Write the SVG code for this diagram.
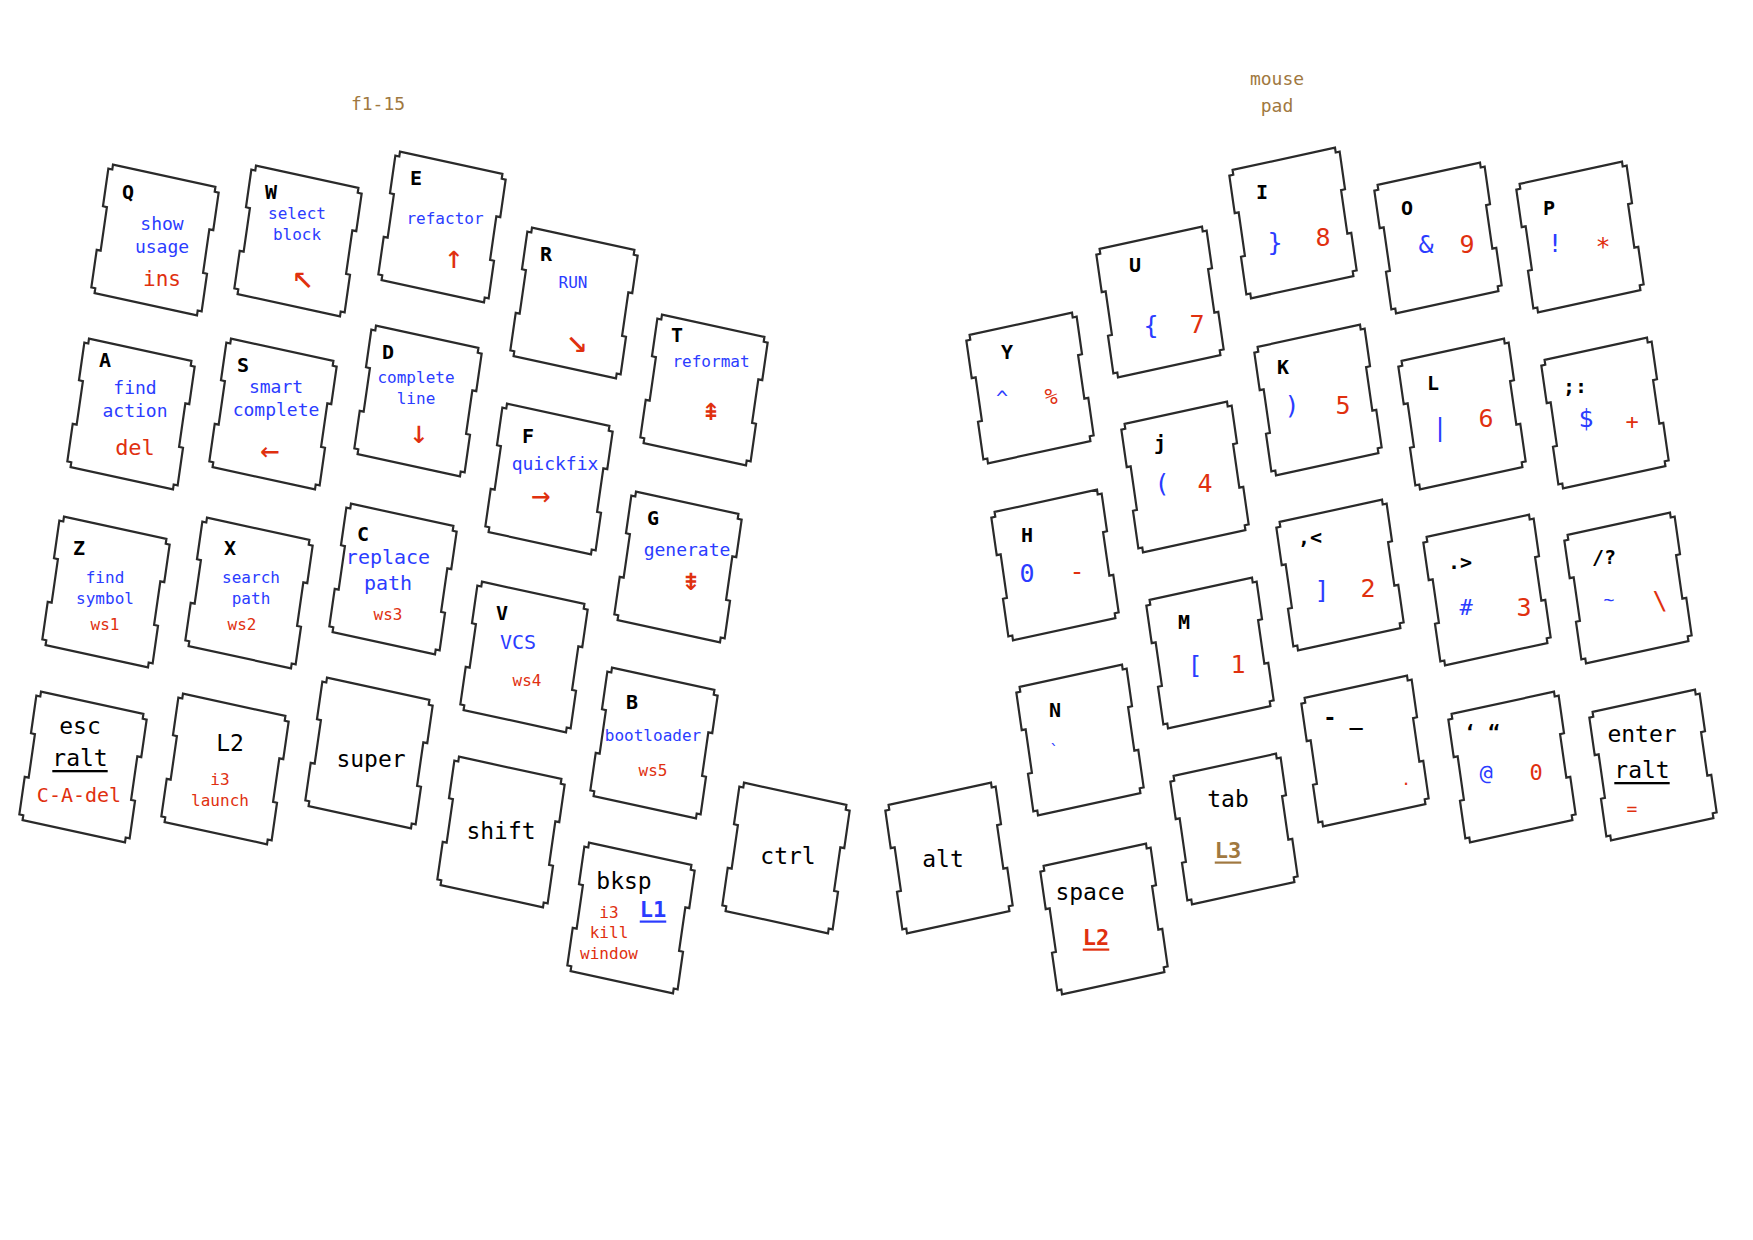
<svg xmlns="http://www.w3.org/2000/svg" xmlns:xlink="http://www.w3.org/1999/xlink" width="1753" height="1240" viewBox="0 0 1753 1240">
<style>
text{font-family:"DejaVu Sans Mono","Liberation Mono",monospace;text-anchor:middle;dominant-baseline:central}
.kl{font-weight:bold;font-size:20px;fill:#000}
.big{font-size:23px;fill:#000}
.b{fill:#2b3cff}
.r{fill:#e0300f}
.s16{font-size:16px}
.s18{font-size:18px}
.s20{font-size:20px}
.s22{font-size:22px}
.s25{font-size:25px}
.ar{font-size:32px}
.ad{font-size:36px}
.u{text-decoration:underline}
.bo{font-weight:bold}
.br{fill:#a07840}
.keyshape{fill:#fff;stroke:#2a2a2a;stroke-width:2.2;stroke-linejoin:miter}
</style>
<defs>
<path id="k" class="keyshape" vector-effect="non-scaling-stroke" d="M-52,-53 H52 V-49 H56 V-18 H52 V18 H56 V49 H52 V53 H-52 V49 H-56 V18 H-52 V-18 H-56 V-49 H-52 Z"/>
</defs>
<rect width="1753" height="1240" fill="#fff"/>
<g id="titles">
<text class="br s18" x="378" y="103">f1-15</text>
<text class="br s18" x="1277" y="78">mouse</text>
<text class="br s18" x="1277" y="105">pad</text>
</g>
<!-- left half -->
<g id="key-q"><use href="#k" transform="translate(155 240) scale(1 1.23) rotate(10)"/>
<text class="kl" x="128" y="192">Q</text><text class="b s18" x="162" y="223">show</text><text class="b s18" x="162" y="246">usage</text><text class="r" style="font-size:21px" x="162" y="279">ins</text></g>
<g id="key-w"><use href="#k" transform="translate(298 241) scale(1 1.23) rotate(10)"/>
<text class="kl" x="271" y="192">W</text><text class="b s16" x="297" y="213">select</text><text class="b s16" x="297" y="234">block</text><text class="r ad" x="303" y="275">↖</text></g>
<g id="key-e"><use href="#k" transform="translate(442 227) scale(1 1.23) rotate(10)"/>
<text class="kl" x="416" y="178">E</text><text class="b s16" x="445" y="218">refactor</text><text class="r ar" x="454" y="257">↑</text></g>
<g id="key-r"><use href="#k" transform="translate(574 303) scale(1 1.23) rotate(10)"/>
<text class="kl" x="546" y="254">R</text><text class="b s16" x="573" y="282">RUN</text><text class="r ad" x="577" y="339">↘</text></g>
<g id="key-t"><use href="#k" transform="translate(704 390) scale(1 1.23) rotate(10)"/>
<text class="kl" x="677" y="335">T</text><text class="b s16" x="711" y="361">reformat</text><text class="r ar" x="711" y="409">⇞</text></g>
<g id="key-a"><use href="#k" transform="translate(131 414) scale(1 1.23) rotate(10)"/>
<text class="kl" x="105" y="360">A</text><text class="b s18" x="135" y="387">find</text><text class="b s18" x="135" y="410">action</text><text class="r s22" x="135" y="447">del</text></g>
<g id="key-s"><use href="#k" transform="translate(273 414) scale(1 1.23) rotate(10)"/>
<text class="kl" x="243" y="365">S</text><text class="b s18" x="276" y="386">smart</text><text class="b s18" x="276" y="409">complete</text><text class="r ar" x="270" y="450">←</text></g>
<g id="key-d"><use href="#k" transform="translate(418 401) scale(1 1.23) rotate(10)"/>
<text class="kl" x="388" y="352">D</text><text class="b s16" x="416" y="377">complete</text><text class="b s16" x="416" y="398">line</text><text class="r ar" x="419" y="432">↓</text></g>
<g id="key-f"><use href="#k" transform="translate(549 479) scale(1 1.23) rotate(10)"/>
<text class="kl" x="528" y="436">F</text><text class="b s18" x="555" y="463">quickfix</text><text class="r ar" x="541" y="495">→</text></g>
<g id="key-g"><use href="#k" transform="translate(678 567) scale(1 1.23) rotate(10)"/>
<text class="kl" x="653" y="518">G</text><text class="b s18" x="687" y="549">generate</text><text class="r ar" x="691" y="579">⇟</text></g>
<g id="key-z"><use href="#k" transform="translate(106 592) scale(1 1.23) rotate(10)"/>
<text class="kl" x="79" y="548">Z</text><text class="b s16" x="105" y="577">find</text><text class="b s16" x="105" y="598">symbol</text><text class="r s16" x="105" y="624">ws1</text></g>
<g id="key-x"><use href="#k" transform="translate(249 593) scale(1 1.23) rotate(10)"/>
<text class="kl" x="230" y="548">X</text><text class="b s16" x="251" y="577">search</text><text class="b s16" x="251" y="598">path</text><text class="r s16" x="242" y="624">ws2</text></g>
<g id="key-c"><use href="#k" transform="translate(393 579) scale(1 1.23) rotate(10)"/>
<text class="kl" x="363" y="534">C</text><text class="b s20" x="388" y="557">replace</text><text class="b s20" x="388" y="583">path</text><text class="r s16" x="388" y="614">ws3</text></g>
<g id="key-v"><use href="#k" transform="translate(524 657) scale(1 1.23) rotate(10)"/>
<text class="kl" x="502" y="613">V</text><text class="b s20" x="518" y="642">VCS</text><text class="r s16" x="527" y="680">ws4</text></g>
<g id="key-b"><use href="#k" transform="translate(654 743) scale(1 1.23) rotate(10)"/>
<text class="kl" x="632" y="702">B</text><text class="b s16" x="653" y="735">bootloader</text><text class="r s16" x="653" y="770">ws5</text></g>
<g id="key-esc"><use href="#k" transform="translate(83 767) scale(1 1.23) rotate(10)"/>
<text class="big" x="80" y="726">esc</text><text class="big u" x="80" y="758">ralt</text><text class="r s20" x="79" y="795">C-A-del</text></g>
<g id="key-l2"><use href="#k" transform="translate(225 769) scale(1 1.23) rotate(10)"/>
<text class="big" x="230" y="743">L2</text><text class="r s16" x="220" y="779">i3</text><text class="r s16" x="220" y="800">launch</text></g>
<g id="key-super"><use href="#k" transform="translate(369 753) scale(1 1.23) rotate(10)"/>
<text class="big" x="371" y="759">super</text></g>
<g id="key-shift"><use href="#k" transform="translate(501 832) scale(1 1.23) rotate(10)"/>
<text class="big" x="501" y="831">shift</text></g>
<g id="key-bksp"><use href="#k" transform="translate(631 918) scale(1 1.23) rotate(10)"/>
<text class="big" x="624" y="881">bksp</text><text class="b bo u s22" x="653" y="909">L1</text><text class="r s16" x="609" y="912">i3</text><text class="r s16" x="609" y="932">kill</text><text class="r s16" x="609" y="953">window</text></g>
<g id="key-ctrl"><use href="#k" transform="translate(786 858) scale(1 1.23) rotate(10)"/>
<text class="big" x="788" y="856">ctrl</text></g>
<!-- right half -->
<g id="key-y"><use href="#k" transform="translate(1030 388) scale(1 1.23) rotate(-10)"/>
<text class="kl" x="1007" y="352">Y</text><text class="b s20" x="1002" y="398">^</text><text class="r s22" x="1051" y="396">%</text></g>
<g id="key-u"><use href="#k" transform="translate(1160 302) scale(1 1.23) rotate(-10)"/>
<text class="kl" x="1135" y="265">U</text><text class="b s25" x="1151" y="325">{</text><text class="r s25" x="1197" y="324">7</text></g>
<g id="key-i"><use href="#k" transform="translate(1293 223) scale(1 1.23) rotate(-10)"/>
<text class="kl" x="1262" y="192">I</text><text class="b s25" x="1275" y="242">}</text><text class="r s25" x="1323" y="237">8</text></g>
<g id="key-o"><use href="#k" transform="translate(1438 238) scale(1 1.23) rotate(-10)"/>
<text class="kl" x="1407" y="208">O</text><text class="b s25" x="1426" y="244">&amp;</text><text class="r s25" x="1467" y="244">9</text></g>
<g id="key-p"><use href="#k" transform="translate(1580 237) scale(1 1.23) rotate(-10)"/>
<text class="kl" x="1549" y="208">P</text><text class="b s25" x="1555" y="243">!</text><text class="r s25" x="1603" y="246">*</text></g>
<g id="key-h"><use href="#k" transform="translate(1055 565) scale(1 1.23) rotate(-10)"/>
<text class="kl" x="1027" y="535">H</text><text class="b s25" x="1027" y="573">0</text><text class="r s25" x="1077" y="571">-</text></g>
<g id="key-j"><use href="#k" transform="translate(1185 477) scale(1 1.23) rotate(-10)"/>
<text class="kl" x="1160" y="443">j</text><text class="b s25" x="1162" y="483">(</text><text class="r s25" x="1205" y="483">4</text></g>
<g id="key-k"><use href="#k" transform="translate(1318 400) scale(1 1.23) rotate(-10)"/>
<text class="kl" x="1283" y="367">K</text><text class="b s25" x="1292" y="405">)</text><text class="r s25" x="1343" y="405">5</text></g>
<g id="key-l"><use href="#k" transform="translate(1462 414) scale(1 1.23) rotate(-10)"/>
<text class="kl" x="1433" y="383">L</text><text class="b s25" x="1440" y="427">|</text><text class="r s25" x="1486" y="418">6</text></g>
<g id="key-semicolon"><use href="#k" transform="translate(1605 413) scale(1 1.23) rotate(-10)"/>
<text class="kl" x="1575" y="386">;:</text><text class="b s25" x="1586" y="418">$</text><text class="r s22" x="1632" y="421">+</text></g>
<g id="key-n"><use href="#k" transform="translate(1080 740) scale(1 1.23) rotate(-10)"/>
<text class="kl" x="1055" y="710">N</text><text class="b s16" x="1054" y="750">`</text></g>
<g id="key-m"><use href="#k" transform="translate(1210 653) scale(1 1.23) rotate(-10)"/>
<text class="kl" x="1184" y="622">M</text><text class="b s25" x="1195" y="665">[</text><text class="r s25" x="1238" y="664">1</text></g>
<g id="key-comma"><use href="#k" transform="translate(1340 575) scale(1 1.23) rotate(-10)"/>
<text class="kl" x="1310" y="537">,&lt;</text><text class="b s25" x="1322" y="590">]</text><text class="r s25" x="1368" y="588">2</text></g>
<g id="key-period"><use href="#k" transform="translate(1487 590) scale(1 1.23) rotate(-10)"/>
<text class="kl" x="1460" y="562">.&gt;</text><text class="b s22" x="1466" y="607">#</text><text class="r s25" x="1524" y="607">3</text></g>
<g id="key-slash"><use href="#k" transform="translate(1628 588) scale(1 1.23) rotate(-10)"/>
<text class="kl" x="1604" y="557">/?</text><text class="b s18" x="1609" y="599">~</text><text class="r s25" x="1660" y="600">\</text></g>
<g id="key-alt"><use href="#k" transform="translate(949 858) scale(1 1.23) rotate(-10)"/>
<text class="big" x="943" y="859">alt</text></g>
<g id="key-space"><use href="#k" transform="translate(1104 919) scale(1 1.23) rotate(-10)"/>
<text class="big" x="1090" y="892">space</text><text class="r bo u s22" x="1096" y="937">L2</text></g>
<g id="key-tab"><use href="#k" transform="translate(1234 829) scale(1 1.23) rotate(-10)"/>
<text class="big" x="1228" y="799">tab</text><text class="br bo u s22" x="1228" y="850">L3</text></g>
<g id="key-minus"><use href="#k" transform="translate(1365 751) scale(1 1.23) rotate(-10)"/>
<text class="kl" style="font-size:22px" x="1343" y="717">- _</text><text class="r s16" x="1406" y="779">.</text></g>
<g id="key-quote"><use href="#k" transform="translate(1512 767) scale(1 1.23) rotate(-10)"/>
<text class="kl" x="1482" y="732">‘ “</text><text class="b s22" x="1486" y="772">@</text><text class="r s22" x="1536" y="772">0</text></g>
<g id="key-enter"><use href="#k" transform="translate(1653 765) scale(1 1.23) rotate(-10)"/>
<text class="big" x="1642" y="734">enter</text><text class="big u" x="1642" y="770">ralt</text><text class="r s18" x="1632" y="808">=</text></g>
</svg>
